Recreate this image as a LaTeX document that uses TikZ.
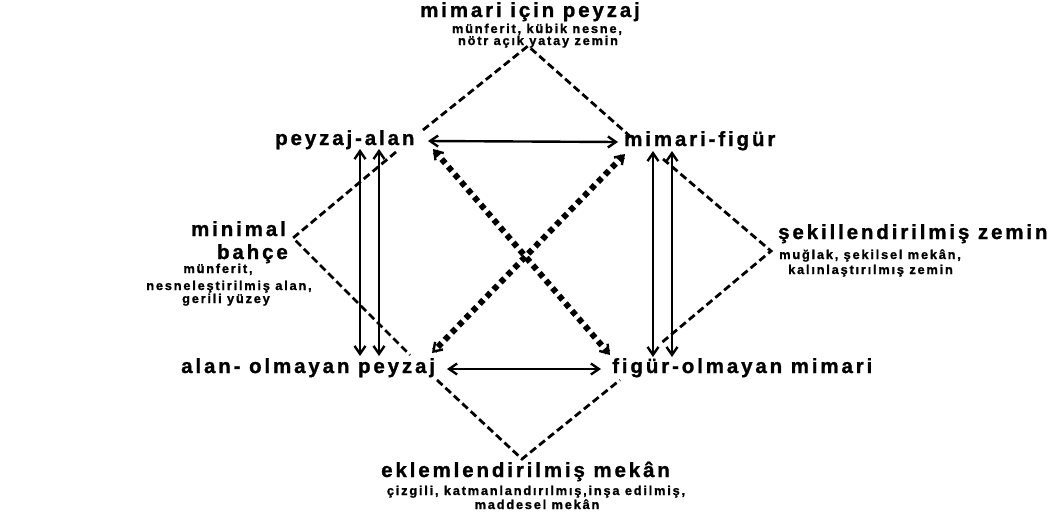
\documentclass[tikz,border=0pt]{standalone}
\usepackage{fontspec}
\setmainfont{Liberation Sans}
\newfontfamily\spc{Liberation Sans}[LetterSpace=14, BoldFeatures={FakeBold=1.2}]
\usetikzlibrary{arrows.meta}
\begin{document}
\begin{tikzpicture}[x=1pt,y=-1pt,
  big/.style={font=\spc\bfseries\fontsize{20.5}{22}\selectfont, inner sep=0pt},
  small/.style={font=\spc\bfseries\fontsize{12.8}{14}\selectfont, inner sep=0pt},
  dline/.style={line width=2.8pt, dash pattern=on 7.5pt off 4pt},
  dotline/.style={line width=6pt, dash pattern=on 5.5pt off 4.5pt, {Straight Barb[length=8pt,width=11pt,line width=2.4pt]}-{Straight Barb[length=8pt,width=11pt,line width=2.4pt]}},
  arr/.style={line width=2.4pt, {Straight Barb[length=8pt,width=11pt]}-{Straight Barb[length=8pt,width=11pt]}}
]
\useasboundingbox (0,0) rectangle (1053,517);
% labels
\node[big, anchor=base] (t) at (530,17) {mimari için peyzaj};
\node[small, anchor=base] (t1) at (537,33) {münferit, kübik nesne,};
\node[small, anchor=base] (t2) at (538,45) {nötr açık yatay zemin};
\node[big, anchor=base west] (pa) at (275,145) {peyzaj-alan};
\node[big, anchor=base west] (mf) at (624,146) {mimari-figür};
\node[big, anchor=base east] (mb1) at (286,236) {minimal};
\node[big, anchor=base east] (mb2) at (288,259) {bahçe};
\node[small, anchor=base] (mb3) at (218,273) {münferit,};
\node[small, anchor=base] (mb4) at (229,290) {nesneleştirilmiş alan,};
\node[small, anchor=base] (mb5) at (226,303) {gerili yüzey};
\node[big, anchor=base west] (sz) at (778,239) {şekillendirilmiş zemin};
\node[small, anchor=base west] (sz1) at (779,259) {muğlak, şekilsel mekân,};
\node[small, anchor=base west] (sz2) at (788,274) {kalınlaştırılmış zemin};
\node[big, anchor=base west] (ap) at (181,373) {alan- olmayan peyzaj};
\node[big, anchor=base west] (fm) at (612,373) {figür-olmayan mimari};
\node[big, anchor=base west] (em) at (381,477) {eklemlendirilmiş mekân};
\node[small, anchor=base] (em1) at (536,495) {çizgili, katmanlandırılmış,inşa edilmiş,};
\node[small, anchor=base] (em2) at (537,509) {maddesel mekân};
% connector ends
\coordinate (hT1) at (428,141); \coordinate (hT2) at (618,142);
\coordinate (hB1) at (447,369); \coordinate (hB2) at (601,369);
\coordinate (vL1t) at (360,149); \coordinate (vL1b) at (360,356);
\coordinate (vL2t) at (379,149); \coordinate (vL2b) at (379,356);
\coordinate (vR1t) at (653,151); \coordinate (vR1b) at (653,357);
\coordinate (vR2t) at (672,151); \coordinate (vR2b) at (672,357);
\coordinate (d1a) at (433,149); \coordinate (d1b) at (610,355);
\coordinate (d2a) at (625,154); \coordinate (d2b) at (432,353);
% diamond corners
\coordinate (tA) at (528,46); \coordinate (tL) at (423,130); \coordinate (tR) at (632,138);
\coordinate (lA) at (293,238); \coordinate (lT) at (396,152); \coordinate (lB) at (410,355);
\coordinate (rA) at (771,251); \coordinate (rT) at (663,159); \coordinate (rB) at (660,344);
\coordinate (bA) at (522,459); \coordinate (bL) at (437,380); \coordinate (bR) at (620,380);
% dashed diamonds
\draw[dline] (tL) -- (tA) -- (tR);
\draw[dline] (lT) -- (lA) -- (lB);
\draw[dline] (rT) -- (rA) -- (rB);
\draw[dline] (bL) -- (bA) -- (bR);
% arrows
\draw[arr] (hT1) -- (hT2);
\draw[arr] (hB1) -- (hB2);
\draw[arr] (vL1t) -- (vL1b);
\draw[arr] (vL2t) -- (vL2b);
\draw[arr] (vR1t) -- (vR1b);
\draw[arr] (vR2t) -- (vR2b);
\draw[dotline] (d1a) -- (d1b);
\draw[dotline] (d2a) -- (d2b);
\end{tikzpicture}
\end{document}
